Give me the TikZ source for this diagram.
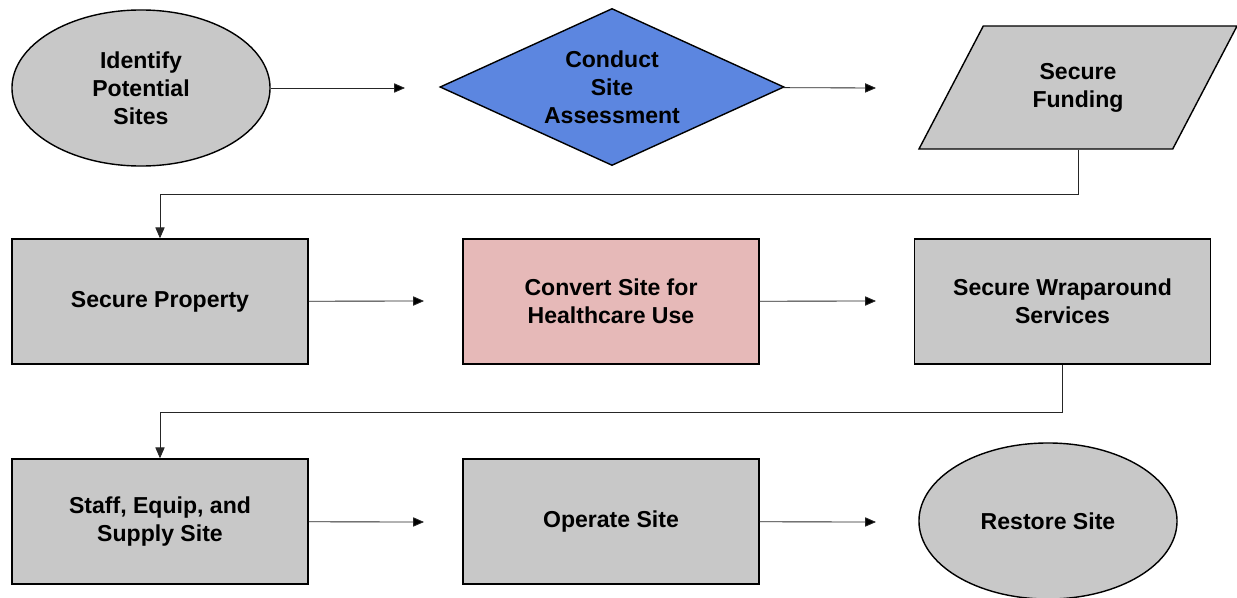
\documentclass[tikz,border=0pt]{standalone}
\usepackage{fontspec}
\setmainfont{Liberation Sans}
\usetikzlibrary{shapes.geometric,arrows.meta}
\definecolor{stagegray}{RGB}{200,200,200}
\definecolor{assessblue}{RGB}{92,134,224}
\definecolor{convertpink}{RGB}{230,185,184}
\tikzset{
	stage/.style={draw=black, line width=1pt, fill=stagegray, align=center, inner sep=0pt,
		font=\bfseries\fontsize{16.4}{19.9}\selectfont},
	stagebox/.style={stage, rectangle, minimum width=7.4cm, minimum height=3.125cm},
	stageoval/.style={stage, ellipse, minimum width=6.45cm, minimum height=3.9cm},
	flow/.style={-{Triangle[length=2.7mm,width=2.3mm]}, line width=0.6pt, draw=black!85},
}

\begin{document}
\begin{tikzpicture}[x=0.025cm, y=-0.025cm]
		\useasboundingbox (0,0) rectangle (1237,598);
		% first row
		\node[stageoval] (identify) at (141,88) {Identify\\Potential\\Sites};
		\node[stage, diamond, aspect=2.2, fill=assessblue, minimum width=8.6cm, minimum height=3.925cm] (assess) at (612,87) {Conduct\\Site\\Assessment};
		\node[stage, trapezium, trapezium left angle=62, trapezium right angle=118, trapezium stretches body,
			inner ysep=0.9cm, minimum width=7.95cm, minimum height=3.075cm] (funding) at (1078,87.5) {Secure\\Funding};
		% second row
		\node[stagebox] (property) at (160,301.5) {Secure Property};
		\node[stagebox, fill=convertpink] (convert) at (611,301.5) {Convert Site for\\Healthcare Use};
		\node[stagebox] (wrap) at (1062.5,301.5) {Secure Wraparound\\Services};
		% third row
		\node[stagebox] (staff) at (160,521.5) {Staff, Equip, and\\Supply Site};
		\node[stagebox] (operate) at (611,521.5) {Operate Site};
		\node[stageoval] (restore) at (1048,521) {Restore Site};
		% arrow ends
		\coordinate (toassess) at (405,88);
		\coordinate (tofunding) at (876,88);
		\coordinate (toconvert) at (424,301);
		\coordinate (towrap) at (876,301);
		\coordinate (tooperate) at (424,522);
		\coordinate (torestore) at (876,522);
		\path[flow]
		(identify) edge (toassess)
		(assess) edge (tofunding)
		(property) edge (toconvert)
		(convert) edge (towrap)
		(staff) edge (tooperate)
		(operate) edge (torestore);
		\draw[flow] (funding.center |- funding.south) -- ++(0,45) -| (property.north);
		\draw[flow] (wrap.south) -- ++(0,48) -| (staff.north);
	\end{tikzpicture}
\end{document}
